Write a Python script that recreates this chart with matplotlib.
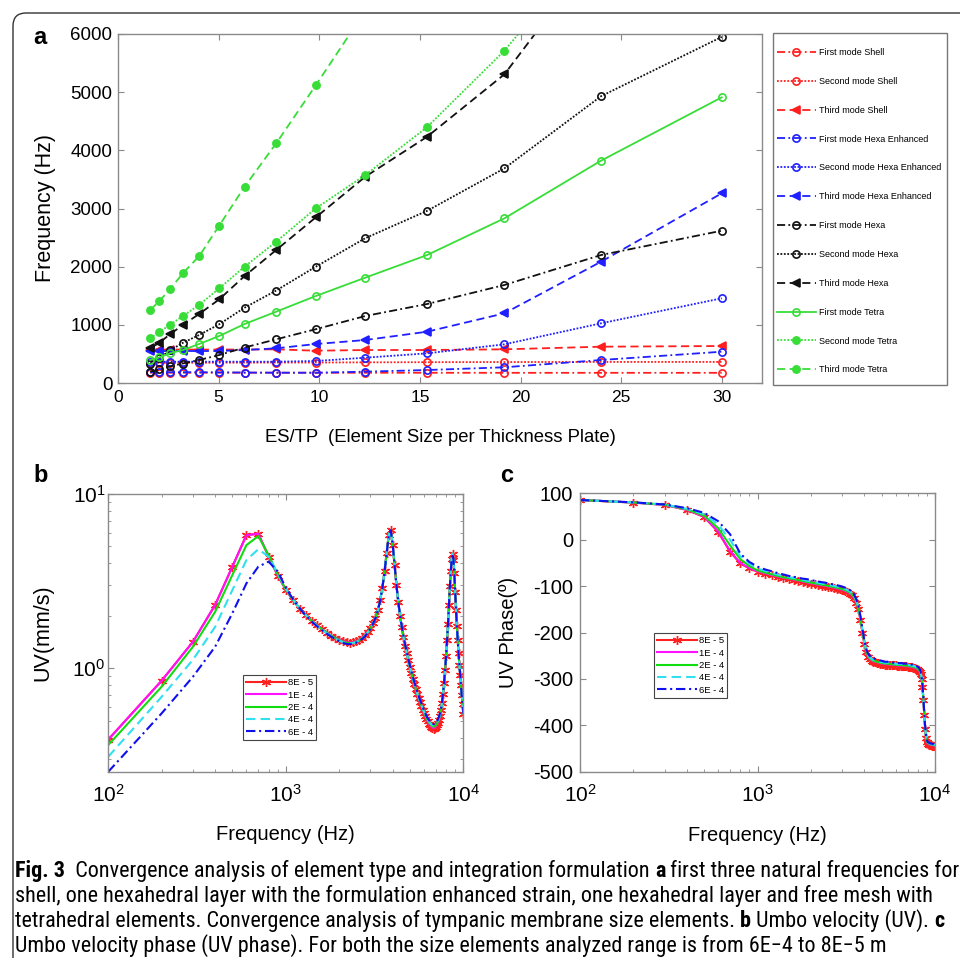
import matplotlib
matplotlib.use("Agg")
import matplotlib.pyplot as plt
from matplotlib import font_manager as fm
from matplotlib.patches import Rectangle, PathPatch
from matplotlib.path import Path

# ---------------------------------------------------------------- data (a)
es_tp = [1.6, 2.06, 2.58, 3.22, 4.03, 5.03, 6.29, 7.86, 9.83, 12.29, 15.36, 19.2, 24.0, 30.0]

first_shell = [178, 178, 177, 177, 177, 177, 177, 177, 176, 176, 176, 175, 175, 175]
second_shell = [345, 345, 345, 348, 348, 350, 350, 352, 352, 355, 358, 360, 362, 362]
third_shell = [575, 575, 575, 575, 575, 575, 575, 579, 555, 567, 567, 579, 624, 636]
first_hexa_enh = [185, 185, 185, 185, 185, 183, 180, 177, 177, 195, 223, 270, 395, 538]
second_hexa_enh = [366, 366, 366, 366, 366, 366, 366, 366, 378, 435, 510, 665, 1026, 1456]
third_hexa_enh = [545, 548, 550, 550, 550, 550, 567, 596, 670, 739, 882, 1198, 2085, 3261]
first_hexa = [195, 235, 285, 335, 395, 481, 610, 751, 925, 1152, 1358, 1685, 2200, 2618]
second_hexa = [330, 430, 560, 690, 825, 1010, 1295, 1590, 2000, 2490, 2960, 3690, 4930, 5950]
third_hexa = [596, 693, 837, 997, 1186, 1438, 1839, 2286, 2848, 3547, 4234, 5307, 7500, 10300]
first_tetra = [395, 441, 510, 567, 670, 808, 1014, 1226, 1496, 1811, 2200, 2831, 3822, 4911]
second_tetra = [768, 882, 997, 1152, 1341, 1627, 2000, 2430, 3003, 3576, 4400, 5713, 7700, 9900]
third_tetra = [1255, 1410, 1610, 1885, 2180, 2705, 3375, 4120, 5120, 6400, 8000, 10000, 12500, 15600]

# ---------------------------------------------------------------- data (b, c)
freq_hz = [100, 200, 300, 400, 500, 600, 700, 800, 900, 1000,
           1100, 1200, 1300, 1400, 1500, 1600, 1700, 1800, 1900, 2000,
           2100, 2200, 2300, 2400, 2500, 2600, 2700, 2800, 2900, 3000,
           3100, 3200, 3300, 3400, 3500, 3600, 3700, 3800, 3900, 4000,
           4100, 4200, 4300, 4400, 4500, 4600, 4700, 4800, 4900, 5000,
           5100, 5200, 5300, 5400, 5500, 5600, 5700, 5800, 5900, 6000,
           6100, 6200, 6300, 6400, 6500, 6600, 6700, 6800, 6900, 7000,
           7100, 7200, 7300, 7400, 7500, 7600, 7700, 7800, 7900, 8000,
           8100, 8200, 8300, 8400, 8500, 8600, 8700, 8800, 8900, 9000,
           9100, 9200, 9300, 9400, 9500, 9600, 9700, 9800, 9900, 10000]

size_labels = ["8E - 5", "1E - 4", "2E - 4", "4E - 4", "6E - 4"]

uv_8e5 = [0.39, 0.85, 1.42, 2.31, 3.83, 5.82, 5.90, 4.37, 3.40, 2.82,
          2.45, 2.20, 2.01, 1.87, 1.76, 1.67, 1.60, 1.54, 1.49, 1.46,
          1.43, 1.41, 1.40, 1.41, 1.43, 1.46, 1.50, 1.55, 1.62, 1.70,
          1.81, 1.95, 2.15, 2.45, 2.90, 3.60, 4.60, 5.80, 6.20, 5.10,
          3.90, 3.00, 2.40, 2.00, 1.72, 1.51, 1.35, 1.22, 1.11, 1.02,
          0.94, 0.87, 0.81, 0.76, 0.715, 0.675, 0.64, 0.61, 0.58, 0.555,
          0.53, 0.51, 0.495, 0.48, 0.47, 0.46, 0.452, 0.45, 0.452, 0.46,
          0.47, 0.485, 0.505, 0.535, 0.575, 0.635, 0.715, 0.825, 0.975, 1.18,
          1.45, 1.80, 2.30, 2.95, 3.60, 4.25, 4.55, 4.20, 3.50, 2.75,
          2.15, 1.75, 1.45, 1.22, 1.05, 0.92, 0.80, 0.70, 0.62, 0.55]
uv_1e4 = [0.39, 0.85, 1.42, 2.31, 3.83, 5.80, 5.92, 4.40, 3.42, 2.83,
          2.45, 2.20, 2.01, 1.87, 1.76, 1.67, 1.60, 1.54, 1.49, 1.46,
          1.43, 1.41, 1.40, 1.41, 1.43, 1.46, 1.50, 1.55, 1.62, 1.70,
          1.81, 1.95, 2.15, 2.45, 2.90, 3.60, 4.60, 5.80, 6.20, 5.10,
          3.90, 3.00, 2.40, 2.00, 1.72, 1.51, 1.35, 1.22, 1.11, 1.02,
          0.94, 0.87, 0.81, 0.76, 0.715, 0.675, 0.64, 0.61, 0.58, 0.555,
          0.53, 0.512, 0.497, 0.483, 0.473, 0.464, 0.457, 0.455, 0.457, 0.464,
          0.474, 0.488, 0.508, 0.537, 0.577, 0.637, 0.717, 0.827, 0.975, 1.18,
          1.45, 1.80, 2.30, 2.95, 3.60, 4.25, 4.55, 4.20, 3.50, 2.75,
          2.15, 1.75, 1.45, 1.22, 1.05, 0.92, 0.80, 0.70, 0.62, 0.55]
uv_2e4 = [0.363, 0.785, 1.33, 2.11, 3.43, 5.09, 5.73, 4.47, 3.45, 2.84,
          2.46, 2.20, 2.01, 1.87, 1.76, 1.67, 1.60, 1.54, 1.49, 1.45,
          1.42, 1.40, 1.395, 1.40, 1.42, 1.45, 1.49, 1.545, 1.61, 1.70,
          1.81, 1.95, 2.15, 2.45, 2.90, 3.60, 4.60, 5.80, 6.20, 5.10,
          3.90, 3.00, 2.40, 2.00, 1.72, 1.51, 1.35, 1.22, 1.11, 1.02,
          0.94, 0.87, 0.81, 0.76, 0.716, 0.677, 0.643, 0.613, 0.585, 0.56,
          0.537, 0.518, 0.502, 0.489, 0.479, 0.471, 0.465, 0.462, 0.464, 0.47,
          0.48, 0.494, 0.513, 0.541, 0.58, 0.64, 0.72, 0.83, 0.98, 1.18,
          1.45, 1.80, 2.30, 2.95, 3.60, 4.25, 4.55, 4.20, 3.50, 2.75,
          2.15, 1.75, 1.45, 1.22, 1.05, 0.92, 0.80, 0.70, 0.62, 0.55]
uv_4e4 = [0.311, 0.687, 1.12, 1.73, 2.81, 4.18, 4.82, 4.37, 3.50, 2.87,
          2.47, 2.20, 2.01, 1.86, 1.75, 1.66, 1.59, 1.53, 1.48, 1.44,
          1.41, 1.395, 1.39, 1.395, 1.415, 1.445, 1.485, 1.54, 1.61, 1.70,
          1.81, 1.95, 2.15, 2.45, 2.90, 3.60, 4.60, 5.80, 6.20, 5.10,
          3.90, 3.00, 2.40, 2.00, 1.72, 1.51, 1.35, 1.22, 1.11, 1.02,
          0.94, 0.87, 0.81, 0.76, 0.718, 0.68, 0.646, 0.617, 0.59, 0.566,
          0.544, 0.525, 0.509, 0.496, 0.486, 0.478, 0.472, 0.469, 0.471, 0.477,
          0.487, 0.5, 0.519, 0.546, 0.584, 0.643, 0.722, 0.832, 0.98, 1.18,
          1.45, 1.80, 2.30, 2.95, 3.60, 4.25, 4.55, 4.20, 3.50, 2.75,
          2.15, 1.75, 1.45, 1.22, 1.05, 0.92, 0.80, 0.70, 0.62, 0.55]
uv_6e4 = [0.255, 0.552, 0.895, 1.33, 2.07, 3.07, 3.83, 4.09, 3.60, 2.90,
          2.48, 2.20, 2.00, 1.85, 1.74, 1.65, 1.58, 1.52, 1.47, 1.43,
          1.40, 1.38, 1.375, 1.385, 1.405, 1.435, 1.475, 1.53, 1.60, 1.69,
          1.80, 1.94, 2.14, 2.44, 2.89, 3.58, 4.58, 5.78, 6.20, 5.12,
          3.92, 3.02, 2.42, 2.02, 1.74, 1.53, 1.37, 1.24, 1.13, 1.04,
          0.96, 0.89, 0.83, 0.78, 0.735, 0.695, 0.66, 0.63, 0.60, 0.575,
          0.553, 0.534, 0.518, 0.505, 0.495, 0.487, 0.481, 0.478, 0.48, 0.486,
          0.496, 0.509, 0.528, 0.555, 0.592, 0.65, 0.728, 0.836, 0.985, 1.18,
          1.45, 1.80, 2.30, 2.95, 3.60, 4.25, 4.55, 4.20, 3.50, 2.75,
          2.15, 1.75, 1.45, 1.22, 1.05, 0.92, 0.80, 0.70, 0.62, 0.55]

ph_8e5 = [85.6, 80, 75, 64, 49, 17, -26, -51, -62, -69,
          -73, -77, -80, -83, -85, -87, -89, -91, -93, -95,
          -96, -98, -99, -100, -102, -103, -104, -106, -107, -109,
          -111, -113, -116, -120, -126, -136, -150, -172, -200, -225,
          -243, -253, -258, -261, -263, -264, -265, -266, -267, -268,
          -268, -269, -269, -269, -270, -270, -270, -271, -271, -271,
          -272, -272, -272, -272, -272, -273, -273, -273, -273, -274,
          -274, -274, -275, -275, -276, -276, -277, -278, -279, -280,
          -282, -285, -290, -300, -318, -345, -378, -408, -428, -437,
          -440, -441, -442, -443, -443, -444, -444, -444, -445, -445]
ph_1e4 = [85.6, 80, 75, 64.5, 50, 18, -24, -50, -61, -68,
          -72, -76, -79, -82, -84, -86, -88, -90, -92, -94,
          -95, -97, -98, -99, -101, -102, -103, -105, -106, -108,
          -110, -112, -115, -119, -125, -135, -149, -171, -199, -224,
          -242, -252, -257, -260, -262, -263, -264, -265, -266, -267,
          -267, -268, -268, -268, -269, -269, -269, -270, -270, -270,
          -271, -271, -271, -271, -271, -272, -272, -272, -272, -273,
          -273, -273, -274, -274, -275, -275, -276, -277, -278, -279,
          -281, -284, -289, -299, -317, -344, -377, -407, -427, -436,
          -439, -440, -441, -442, -442, -443, -443, -443, -444, -444]
ph_2e4 = [85.6, 80.2, 75.5, 65.5, 52, 25, -12, -42, -57, -66,
          -70.5, -74.5, -78, -81, -83, -85, -87, -89, -91, -92.5,
          -94, -95.5, -97, -98, -99.5, -101, -102, -103.5, -105, -106.5,
          -108.5, -110.5, -113.5, -117.5, -123.5, -133.5, -147.5, -169.5, -197.5, -222.5,
          -241, -251, -256, -259, -261, -262, -263, -264, -265, -266,
          -266, -267, -267, -267, -268, -268, -268, -269, -269, -269,
          -270, -270, -270, -270, -270, -271, -271, -271, -271, -272,
          -272, -272, -273, -273, -274, -274, -275, -276, -277, -278,
          -280, -283, -288, -298, -316, -343, -376, -406, -426, -435,
          -438, -439, -440, -441, -441, -442, -442, -442, -443, -443]
ph_4e4 = [85.6, 80.3, 75.8, 66.5, 55, 33, 0, -36, -52, -62,
          -67, -71.5, -75, -78, -80.5, -82.5, -84.5, -86.5, -88.5, -90,
          -91.5, -93, -94.5, -95.5, -97, -98.5, -99.5, -101, -102.5, -104,
          -106, -108, -111, -115, -121, -131, -145, -167, -195, -220,
          -239, -249, -254, -257, -259, -260, -261, -262, -263, -264,
          -264, -265, -265, -265, -266, -266, -266, -267, -267, -267,
          -268, -268, -268, -268, -268, -269, -269, -269, -269, -270,
          -270, -270, -271, -271, -272, -272, -273, -274, -275, -276,
          -278, -281, -286, -296, -314, -341, -374, -404, -424, -434,
          -437, -438, -439, -440, -440, -441, -441, -441, -442, -442]
ph_6e4 = [85.6, 80.5, 76, 68, 58, 40, 12, -30, -48, -58,
          -64, -68, -72, -75, -78, -80, -82, -84, -85, -87,
          -88.5, -90, -91.5, -92.5, -94, -95.5, -96.5, -98, -99.5, -101,
          -103, -105, -108, -112, -118, -128, -142, -164, -192, -217,
          -236, -246, -251, -254, -256, -257, -258, -259, -260, -261,
          -262, -263, -263, -263, -264, -264, -264, -265, -265, -265,
          -266, -266, -266, -266, -266, -267, -267, -267, -267, -268,
          -268, -268, -269, -269, -270, -270, -271, -272, -273, -274,
          -276, -279, -284, -294, -312, -339, -372, -402, -422, -432,
          -436, -437, -438, -439, -439, -440, -440, -440, -441, -441]

# ---------------------------------------------------------------- styling
W, H = 960, 958
plt.rcParams["font.family"] = ["Liberation Sans", "DejaVu Sans"]
plt.rcParams["axes.unicode_minus"] = False
plt.rcParams["mathtext.fontset"] = "custom"
plt.rcParams["mathtext.rm"] = "Liberation Sans"
plt.rcParams["mathtext.it"] = "Liberation Sans:italic"
plt.rcParams["mathtext.bf"] = "Liberation Sans:bold"
plt.rcParams["mathtext.default"] = "regular"

FRAME = "#8a8a8a"
RED, BLUE, BLACK, GREEN = "#ff1f1f", "#1f1fff", "#111111", "#38dd38"
LINESTYLES = {"-": "-", "--": (0, (4.5, 2.5)), "-.": (0, (4.5, 1.8, 1.0, 1.8)),
              ":": (0, (1.0, 0.9))}

fig = plt.figure(figsize=(W / 100, H / 100), dpi=100)
fig.patch.set_facecolor("white")
renderer = fig.canvas.get_renderer()


def fx(px):
    return px / W


def fy(py):
    return 1 - py / H


def box(left, top, right, bottom):
    return [fx(left), fy(bottom), fx(right) - fx(left), fy(top) - fy(bottom)]


def style_frame(ax, size):
    for sp in ax.spines.values():
        sp.set_color(FRAME)
        sp.set_linewidth(1.0)
    ax.tick_params(which="both", direction="in", top=True, right=True,
                   color=FRAME, labelsize=size)
    ax.tick_params(which="major", length=4)
    ax.tick_params(which="minor", length=2)


# ---------------------------------------------------------------- panel a
ax_a = fig.add_axes(box(118, 34, 762, 383))
modes_a = [
    ("First mode Shell", first_shell, RED, "-.", "o", False),
    ("Second mode Shell", second_shell, RED, ":", "o", False),
    ("Third mode Shell", third_shell, RED, "--", "<", True),
    ("First mode Hexa Enhanced", first_hexa_enh, BLUE, "-.", "o", False),
    ("Second mode Hexa Enhanced", second_hexa_enh, BLUE, ":", "o", False),
    ("Third mode Hexa Enhanced", third_hexa_enh, BLUE, "--", "<", True),
    ("First mode Hexa", first_hexa, BLACK, "-.", "o", False),
    ("Second mode Hexa", second_hexa, BLACK, ":", "o", False),
    ("Third mode Hexa", third_hexa, BLACK, "--", "<", True),
    ("First mode Tetra", first_tetra, GREEN, "-", "o", False),
    ("Second mode Tetra", second_tetra, GREEN, ":", "o", True),
    ("Third mode Tetra", third_tetra, GREEN, "--", "o", True),
]
handles_a = []
for label, vals, col, ls, mk, filled in modes_a:
    h, = ax_a.plot(es_tp, vals, color=col, linestyle=LINESTYLES[ls], linewidth=1.3,
                   marker=mk, markersize=5.2, markeredgewidth=1.2,
                   markerfacecolor=col if filled else "none",
                   markeredgecolor=col, label=label)
    handles_a.append(h)

ax_a.set_xlim(0, 32)
ax_a.set_ylim(0, 6000)
ax_a.set_xticks([0, 5, 10, 15, 20, 25, 30])
ax_a.set_yticks([0, 1000, 2000, 3000, 4000, 5000, 6000])
style_frame(ax_a, 13)
ax_a.tick_params(axis="x", labelsize=12.5, pad=5)
ax_a.tick_params(axis="y", labelsize=13.5, pad=4)
ax_a.set_xlabel("ES/TP  (Element Size per Thickness Plate)", fontsize=13.3)
ax_a.xaxis.label.set_va("center")
ax_a.xaxis.set_label_coords(0.5, (383 - 438) / (383 - 34))
ax_a.set_ylabel("Frequency (Hz)", fontsize=15.5)
ax_a.yaxis.label.set_va("center")
ax_a.yaxis.set_label_coords((46 - 118) / (762 - 118), 0.5)

leg_a = ax_a.legend(handles_a, [m[0] for m in modes_a], loc="upper left",
                    bbox_to_anchor=(fx(777), fy(48)),
                    bbox_transform=fig.transFigure, frameon=False,
                    fontsize=6.5, handlelength=4.3, handletextpad=0.35,
                    labelspacing=2.2, borderpad=0, borderaxespad=0)
fig.add_artist(Rectangle((fx(773), fy(385)), fx(947) - fx(773), fy(33) - fy(385),
                         transform=fig.transFigure, fill=False,
                         edgecolor="#777777", linewidth=1.0))

# ---------------------------------------------------------------- panels b, c
ASTERISK = (6, 2, 0)
series_bc = [
    (uv_8e5, ph_8e5, "#ff2020", "-", ASTERISK),
    (uv_1e4, ph_1e4, "#ff10ff", "-", None),
    (uv_2e4, ph_2e4, "#10dd10", "-", None),
    (uv_4e4, ph_4e4, "#30e0f0", "--", None),
    (uv_6e4, ph_6e4, "#1010ee", "-.", None),
]

ax_b = fig.add_axes(box(108.3, 494, 463.3, 771.7))
ax_c = fig.add_axes(box(580, 493.3, 935, 771.7))
for ax, idx in ((ax_b, 0), (ax_c, 1)):
    hs = []
    for s, lab in zip(series_bc, size_labels):
        h, = ax.plot(freq_hz, s[idx], color=s[2], linestyle=LINESTYLES[s[3]],
                     linewidth=1.5, marker=s[4], markersize=6.5,
                     markeredgewidth=1.0, label=lab)
        hs.append(h)
    ax.set_xscale("log")
    ax.set_xlim(100, 10000)
    ax.set_xticks([100, 1000, 10000])
    ax.set_xticklabels(["10$^{2}$", "10$^{3}$", "10$^{4}$"])
    style_frame(ax, 15)
    ax.tick_params(axis="x", pad=9)
    ax.set_xlabel("Frequency (Hz)", fontsize=14.5)
    ax.xaxis.label.set_va("center")
    ax.xaxis.set_label_coords(0.5, (771.7 - 835) / 277.7)
    anchor = (243, 675) if idx == 0 else (654, 633)
    leg = ax.legend(hs, size_labels, loc="upper left",
                    bbox_to_anchor=(fx(anchor[0]), fy(anchor[1])),
                    bbox_transform=fig.transFigure, fontsize=6.8,
                    handlelength=4.2, handletextpad=0.2, labelspacing=0.35,
                    borderpad=0.35, borderaxespad=0, fancybox=False,
                    framealpha=1)
    leg.get_frame().set_edgecolor("#444444")
    leg.get_frame().set_linewidth(0.8)

ax_b.set_yscale("log")
ax_b.set_ylim(0.255, 10)
ax_b.set_yticks([1, 10])
ax_b.set_yticklabels(["10$^{0}$", "10$^{1}$"])
ax_b.tick_params(axis="y", labelsize=15, pad=2)
ax_b.set_ylabel("UV(mm/s)", fontsize=15.5)
ax_b.yaxis.label.set_va("center")
ax_b.yaxis.set_label_coords((43 - 108.3) / 355, 0.5)

ax_c.set_ylim(-500, 100)
ax_c.set_yticks([100, 0, -100, -200, -300, -400, -500])
ax_c.tick_params(axis="y", labelsize=14.5, pad=5)
ax_c.set_ylabel("UV Phase(º)", fontsize=14.5)
ax_c.yaxis.label.set_va("center")
ax_c.yaxis.set_label_coords((508 - 580) / 355, 0.5)

# ---------------------------------------------------------------- panel letters
for letter, px, py in (("a", 40, 37), ("b", 41, 476), ("c", 507, 476)):
    fig.text(fx(px), fy(py), letter, fontsize=17, fontweight="bold",
             ha="center", va="center")

# ---------------------------------------------------------------- outer frame
frame_path = Path([(fx(13), fy(958)), (fx(13), fy(26)), (fx(13), fy(13)),
                   (fx(26), fy(13)), (fx(960), fy(13))],
                  [Path.MOVETO, Path.LINETO, Path.CURVE3, Path.CURVE3, Path.LINETO])
fig.add_artist(PathPatch(frame_path, transform=fig.transFigure, fill=False,
                         edgecolor="#333333", linewidth=1.0))

# ---------------------------------------------------------------- caption
names = {f.name for f in fm.fontManager.ttflist}
cap_family, cap_stretch = "DejaVu Sans", "condensed"
for cand in ("Liberation Sans Narrow", "Roboto Condensed", "Open Sans Condensed"):
    if cand in names:
        cap_family, cap_stretch = cand, "normal"
        break


def run_width(s, size, bold):
    t = fig.text(0, 0, "|" + s + "|", fontsize=size, family=cap_family,
                 fontstretch=cap_stretch, fontweight="bold" if bold else "normal")
    w1 = t.get_window_extent(renderer).width
    t.set_text("||")
    w0 = t.get_window_extent(renderer).width
    t.remove()
    return w1 - w0


caption = [
    [("Fig. 3", True), ("  Convergence analysis of element type and integration formulation ", False),
     ("a", True), (" first three natural frequencies for", False)],
    [("shell, one hexahedral layer with the formulation enhanced strain, one hexahedral layer and free mesh with", False)],
    [("tetrahedral elements. Convergence analysis of tympanic membrane size elements. ", False),
     ("b", True), (" Umbo velocity (UV). ", False), ("c", True)],
    [("Umbo velocity phase (UV phase). For both the size elements analyzed range is from 6E\u22124 to 8E\u22125 m", False)],
]
ref = sum(run_width(s, 10, b) for s, b in caption[0])
cap_size = 10 * 936 / ref
for line, py in zip(caption, (871, 896, 921, 946)):
    x = 15.0
    for s, b in line:
        fig.text(fx(x), fy(py), s, fontsize=cap_size, family=cap_family,
                 fontstretch=cap_stretch, fontweight="bold" if b else "normal",
                 ha="left", va="center")
        x += run_width(s, cap_size, b)

fig.savefig("out.png", dpi=100, facecolor="white")
